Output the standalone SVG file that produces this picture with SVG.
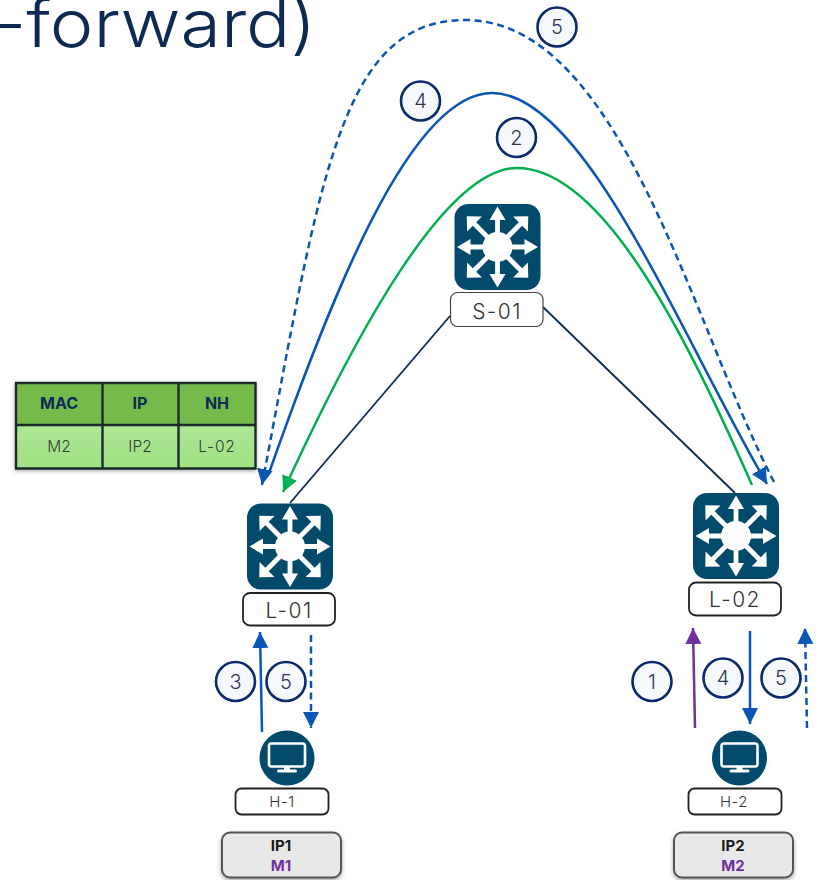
<svg xmlns="http://www.w3.org/2000/svg" width="817" height="880" viewBox="0 0 817 880">
<style>
text{font-family:Inter,"Liberation Sans",sans-serif;text-anchor:middle}
.title{font-size:66px;font-weight:300;fill:#0d2a52;text-anchor:end}
.lbl{fill:#fff;stroke:#222;stroke-width:1.8}
.lbl.thin{stroke:#444;stroke-width:1.2}
.lt{font-size:21px;font-weight:300;fill:#333;letter-spacing:1.4px}
.ht{font-size:15px;font-weight:300;fill:#333;letter-spacing:.5px}
.num{fill:#f5f9fd;stroke:#0b2a6b;stroke-width:2.6}
.nt{font-size:20px;font-weight:300;fill:#2a3555}
.ipb{fill:#e8e8e8;stroke:#555;stroke-width:2}
.ip{font-size:15px;font-weight:700;fill:#1a1a1a}
.mac{font-size:15px;font-weight:700;fill:#7030a0}
.link{stroke:#0d2a52;stroke-width:1.8;fill:none}
.blue{stroke:#0a55b5;stroke-width:2.5;fill:none}
.dash{stroke-dasharray:7 4.5}
.green{stroke:#00b050;stroke-width:2.5;fill:none}
.purple{stroke:#7030a0;stroke-width:2.5;fill:none}
.th{font-size:16px;font-weight:700;fill:#0d2a52}
.td{font-size:15.500px;font-weight:300;fill:#2f3f2f}
.grid{fill:none;stroke:#1b2b2b;stroke-width:2.4}
</style>
<defs>
<marker id="ab" markerUnits="userSpaceOnUse" markerWidth="18" markerHeight="18" refX="16" refY="8" orient="auto"><path d="M0 0L16 8L0 16Z" fill="#0a55b5"/></marker>
<marker id="ag" markerUnits="userSpaceOnUse" markerWidth="18" markerHeight="18" refX="16" refY="8" orient="auto"><path d="M0 0L16 8L0 16Z" fill="#00b050"/></marker>
<marker id="ap" markerUnits="userSpaceOnUse" markerWidth="18" markerHeight="18" refX="16" refY="8" orient="auto"><path d="M0 0L16 8L0 16Z" fill="#7030a0"/></marker>
<filter id="sh" x="-10%" y="-10%" width="120%" height="125%"><feDropShadow dx="0" dy="2" stdDeviation="2" flood-color="#000" flood-opacity=".35"/></filter>
<linearGradient id="bg" x1="0" y1="0" x2="0" y2="1"><stop offset="0" stop-color="#aee595"/><stop offset="1" stop-color="#9fe283"/></linearGradient>
<path id="ar" d="M-2.400 -10V-27H-8L0 -40.500L8 -27H2.400V-10Z" fill="#fff"/>
<path id="ad" d="M-2.400 -10V-32.500H-10.500L0 -43.500L10.500 -32.500H2.400V-10Z" fill="#fff"/>
<g id="sw">
<rect x="-43" y="-43" width="86" height="86" rx="14" fill="#024a6b"/>
<circle r="15" fill="#fff"/>
<use href="#ar"/><use href="#ar" transform="rotate(90)"/><use href="#ar" transform="rotate(180)"/><use href="#ar" transform="rotate(270)"/>
<use href="#ad" transform="rotate(45)"/><use href="#ad" transform="rotate(135)"/><use href="#ad" transform="rotate(225)"/><use href="#ad" transform="rotate(315)"/>
</g>
<g id="pc">
<circle r="27.500" fill="#024a6b"/>
<rect x="-18" y="-14.500" width="36" height="23" rx="2.500" fill="#024a6b" stroke="#fff" stroke-width="2.600"/>
<rect x="-3" y="9" width="6" height="3" fill="#fff"/>
<rect x="-10" y="11.500" width="20" height="3" rx="1.500" fill="#fff"/>
</g>
</defs>
<rect width="817" height="880" fill="#fff"/>
<text class="title" transform="translate(316 46.500) scale(1.115 1)">-forward)</text>
<g id="connectors">
<path class="link" d="M450 316L290 503"/>
<path class="link" d="M543 307L735 493"/>
<path class="green" marker-end="url(#ag)" d="M752 485C690 345 605 168 517 168C445 168 355 335 283 492"/>
<path class="blue" marker-end="url(#ab)" d="M269 473C330 300 410 93 492 93C585 93 680 335 767 484"/>
<path class="blue dash" marker-end="url(#ab)" d="M774 482C690 320 620 20 465 20C340 20 320 180 262 485"/>
<path class="blue" marker-end="url(#ab)" d="M262 732L260 632"/>
<path class="blue dash" marker-end="url(#ab)" d="M311 635V728"/>
<path class="purple" marker-end="url(#ap)" d="M695 728L693 628"/>
<path class="blue" marker-end="url(#ab)" d="M750 631V724"/>
<path class="blue dash" marker-end="url(#ab)" d="M807 728L805 628"/>
</g>
<g id="S-01"><use href="#sw" x="497.500" y="247"/><rect class="lbl thin" x="450.500" y="292.500" width="92.500" height="34" rx="7"/><text class="lt" x="497" y="319">S-01</text></g>
<g id="L-01"><use href="#sw" x="290" y="546.500"/><rect class="lbl" x="243" y="593" width="92" height="32.500" rx="7"/><text class="lt" x="289" y="617.500">L-01</text></g>
<g id="L-02"><use href="#sw" x="736" y="536"/><rect class="lbl" x="689" y="582.500" width="92" height="33" rx="7"/><text class="lt" x="735" y="607">L-02</text></g>
<g id="H-1"><use href="#pc" x="287" y="758"/><rect class="lbl" x="235.500" y="788.500" width="93" height="26" rx="6"/><text class="ht" x="282" y="807">H-1</text></g>
<g id="H-2"><use href="#pc" x="739.500" y="758"/><rect class="lbl" x="688.500" y="788.500" width="93" height="26" rx="6"/><text class="ht" x="734" y="807">H-2</text></g>
<g id="addr-1"><rect class="ipb" filter="url(#sh)" x="222" y="832.500" width="119" height="45" rx="8"/><text class="ip" x="281" y="851">IP1</text><text class="mac" x="281" y="871">M1</text></g>
<g id="addr-2"><rect class="ipb" filter="url(#sh)" x="674" y="832.500" width="119" height="45" rx="8"/><text class="ip" x="733" y="851">IP2</text><text class="mac" x="733" y="871">M2</text></g>
<g id="table">
<rect x="15" y="382" width="241" height="87" fill="#75bb4c" filter="url(#sh)"/>
<rect x="15" y="425" width="241" height="44" fill="url(#bg)"/>
<path class="grid" d="M16 383H255.500V468.500H16ZM16 425H255.500M102.500 383V468.500M178.500 383V468.500"/>
<text class="th" x="59" y="408.500">MAC</text><text class="th" x="140" y="408.500">IP</text><text class="th" x="217" y="408.500">NH</text>
<text class="td" x="59" y="451.500">M2</text><text class="td" x="140" y="451.500">IP2</text><text class="td" x="217" y="451.500" letter-spacing=".8">L-02</text>
</g>
<g id="step-5-top"><circle class="num" cx="557" cy="27" r="19.500"/><text class="nt" x="557" y="34">5</text></g>
<g id="step-4-top"><circle class="num" cx="420.500" cy="101" r="19.500"/><text class="nt" x="420.500" y="108">4</text></g>
<g id="step-2"><circle class="num" cx="516.500" cy="137.500" r="19.500"/><text class="nt" x="516.500" y="145">2</text></g>
<g id="step-3"><circle class="num" cx="235.500" cy="681.500" r="19.500"/><text class="nt" x="235.500" y="689">3</text></g>
<g id="step-5-h1"><circle class="num" cx="286" cy="681.500" r="19.500"/><text class="nt" x="286" y="689">5</text></g>
<g id="step-1"><circle class="num" cx="652" cy="681.500" r="19.500"/><text class="nt" x="652" y="689">1</text></g>
<g id="step-4-h2"><circle class="num" cx="723" cy="678" r="19.500"/><text class="nt" x="723" y="685">4</text></g>
<g id="step-5-h2"><circle class="num" cx="781" cy="678" r="19.500"/><text class="nt" x="781" y="685">5</text></g>
</svg>
